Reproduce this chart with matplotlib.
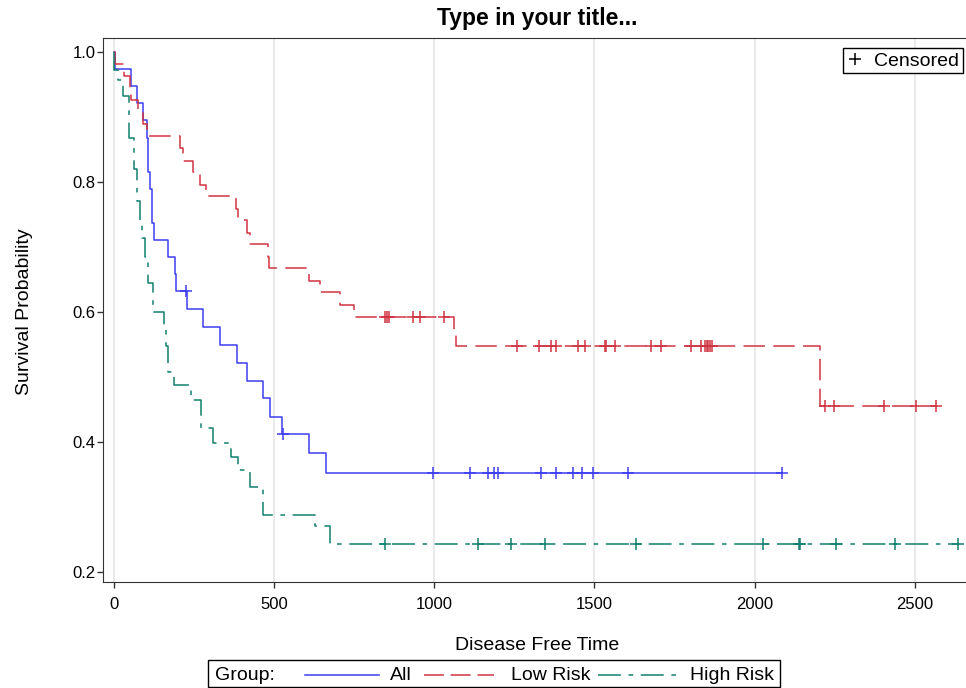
import numpy as np
import matplotlib
matplotlib.use("Agg")
import matplotlib.pyplot as plt
from matplotlib.lines import Line2D
from matplotlib.patches import Rectangle

plt.rcParams['font.family'] = ['Liberation Sans', 'DejaVu Sans']

# step times / survival (value holds from each time on)
all_times = [0, 2, 53, 73, 90, 102, 107, 112, 120, 126, 169, 190, 193, 227,
             277, 330, 384, 417, 466, 487, 526, 608, 662]
all_surv = [1.0, 0.974, 0.947, 0.921, 0.895, 0.868, 0.816, 0.789, 0.737, 0.711,
            0.684, 0.658, 0.632, 0.604, 0.577, 0.549, 0.522, 0.494, 0.467, 0.439,
            0.412, 0.383, 0.353]
all_censor = [225, 528, 996, 1113, 1167, 1187, 1199, 1332, 1380, 1434, 1462,
              1495, 1605, 2087]

low_times = [0, 3, 32, 50, 53, 76, 90, 104, 206, 216, 247, 268, 287, 381, 388,
             414, 424, 480, 485, 609, 643, 705, 749, 1063, 1068, 2204]
low_surv = [1.0, 0.981, 0.963, 0.944, 0.926, 0.907, 0.889, 0.870, 0.852, 0.833,
            0.815, 0.796, 0.778, 0.759, 0.741, 0.722, 0.704, 0.685, 0.667, 0.648,
            0.630, 0.611, 0.593, 0.570, 0.547, 0.456]
low_censor = [846, 851, 859, 934, 957, 1031, 1257, 1326, 1365, 1381, 1448, 1470,
              1532, 1535, 1565, 1676, 1709, 1802, 1832, 1846, 1850, 1854, 1862,
              1868, 2219, 2247, 2405, 2505, 2566]

high_times = [0, 1, 13, 28, 48, 63, 73, 81, 88, 98, 107, 121, 156, 162, 169,
              187, 242, 271, 310, 365, 388, 424, 466, 627, 674]
high_surv = [1.0, 0.973, 0.957, 0.932, 0.867, 0.820, 0.770, 0.735, 0.714, 0.685,
             0.645, 0.600, 0.577, 0.547, 0.508, 0.488, 0.465, 0.421, 0.399, 0.377,
             0.357, 0.331, 0.288, 0.270, 0.243]
high_censor = [846, 1137, 1239, 1345, 1631, 2026, 2138, 2143, 2255, 2437, 2634]

xticks = [0, 500, 1000, 1500, 2000, 2500]
yticks = [0.2, 0.4, 0.6, 0.8, 1.0]

BLUE = '#3d3df2'
RED = '#cf3442'
TEAL = '#11806e'
RED_DASH = (14, 5.5)
TEAL_DASH = (15, 5, 3, 5)


def step_xy(times, surv, censor):
    # carry the last level out to the last censored time
    xs = list(times) + [max(censor)]
    ys = list(surv) + [surv[-1]]
    return xs, ys


def censor_levels(times, surv, censor):
    idx = np.searchsorted(times, censor, side='right') - 1
    return np.array(surv)[idx]


def fx(px):
    return px / 966


def fy(py):
    return 1 - py / 688


def main():
    fig = plt.figure(figsize=(9.66, 6.88), dpi=100)
    ax = fig.add_axes([fx(103), fy(582), 1 - fx(103), fy(38) - fy(582)])

    groups = [
        (all_times, all_surv, all_censor, BLUE, None),
        (low_times, low_surv, low_censor, RED, RED_DASH),
        (high_times, high_surv, high_censor, TEAL, TEAL_DASH),
    ]
    for times, surv, censor, color, dash in groups:
        xs, ys = step_xy(times, surv, censor)
        kw = {} if dash is None else {'dashes': dash}
        ax.step(xs, ys, where='post', color=color, lw=1.1, **kw)
        ax.plot(censor, censor_levels(times, surv, censor), ls='none', marker='+',
                ms=9, mew=1.1, color=color)

    ax.set_xlim(-34, 2660)
    ax.set_ylim(0.1846, 1.0215)
    ax.set_xticks(xticks)
    ax.set_yticks(yticks)
    ax.set_yticklabels(['%.1f' % v for v in yticks])
    ax.tick_params(labelsize=12, length=4, width=1, color='#333333')
    ax.tick_params(axis='x', pad=7)
    ax.tick_params(axis='y', pad=1.5)
    ax.grid(axis='x', color='#e6e6e6', lw=1.2)
    ax.set_axisbelow(True)
    for s in ['left', 'bottom', 'top']:
        ax.spines[s].set_color('#333333')
    ax.spines['right'].set_visible(False)

    h = Line2D([], [], ls='none', marker='+', color='black', ms=9, mew=1.1)
    leg = ax.legend([h], ['Censored'], loc='upper right',
                    bbox_to_anchor=((963 - 103) / 863, 1 - (48 - 38) / 544),
                    fontsize=14, frameon=True, fancybox=False, edgecolor='black',
                    framealpha=1, handlelength=0.8, handletextpad=0.6,
                    borderpad=0.2, borderaxespad=0)
    leg.get_frame().set_linewidth(1)

    fig.text(fx(537), fy(18), 'Type in your title...', ha='center', va='center',
             fontsize=16.5, fontweight='bold')
    fig.text(fx(537), fy(645), 'Disease Free Time', ha='center', va='center',
             fontsize=14)
    fig.text(fx(25), fy(312), 'Survival Probability', ha='center', va='center',
             rotation=90, fontsize=14)

    # group legend along the bottom
    fig.add_artist(Rectangle((fx(208), fy(687)), fx(780) - fx(208), fy(660) - fy(687),
                             transform=fig.transFigure, fill=False, ec='black', lw=1))
    ly = fy(675)
    fig.text(fx(215), ly, 'Group:', ha='left', va='center', fontsize=14)
    items = [(305, 379, BLUE, None, 'All', 390),
             (424, 494, RED, (13, 4.5), 'Low Risk', 511),
             (598, 679, TEAL, (15, 5, 3, 5), 'High Risk', 690)]
    for x0, x1, color, dash, label, tx in items:
        kw = {} if dash is None else {'dashes': dash}
        fig.add_artist(Line2D([fx(x0), fx(x1)], [ly, ly], transform=fig.transFigure,
                              color=color, lw=1.1, **kw))
        fig.text(fx(tx), ly, label, ha='left', va='center', fontsize=14)

    fig.savefig('out.png', dpi=100)


if __name__ == "__main__":
    main()
